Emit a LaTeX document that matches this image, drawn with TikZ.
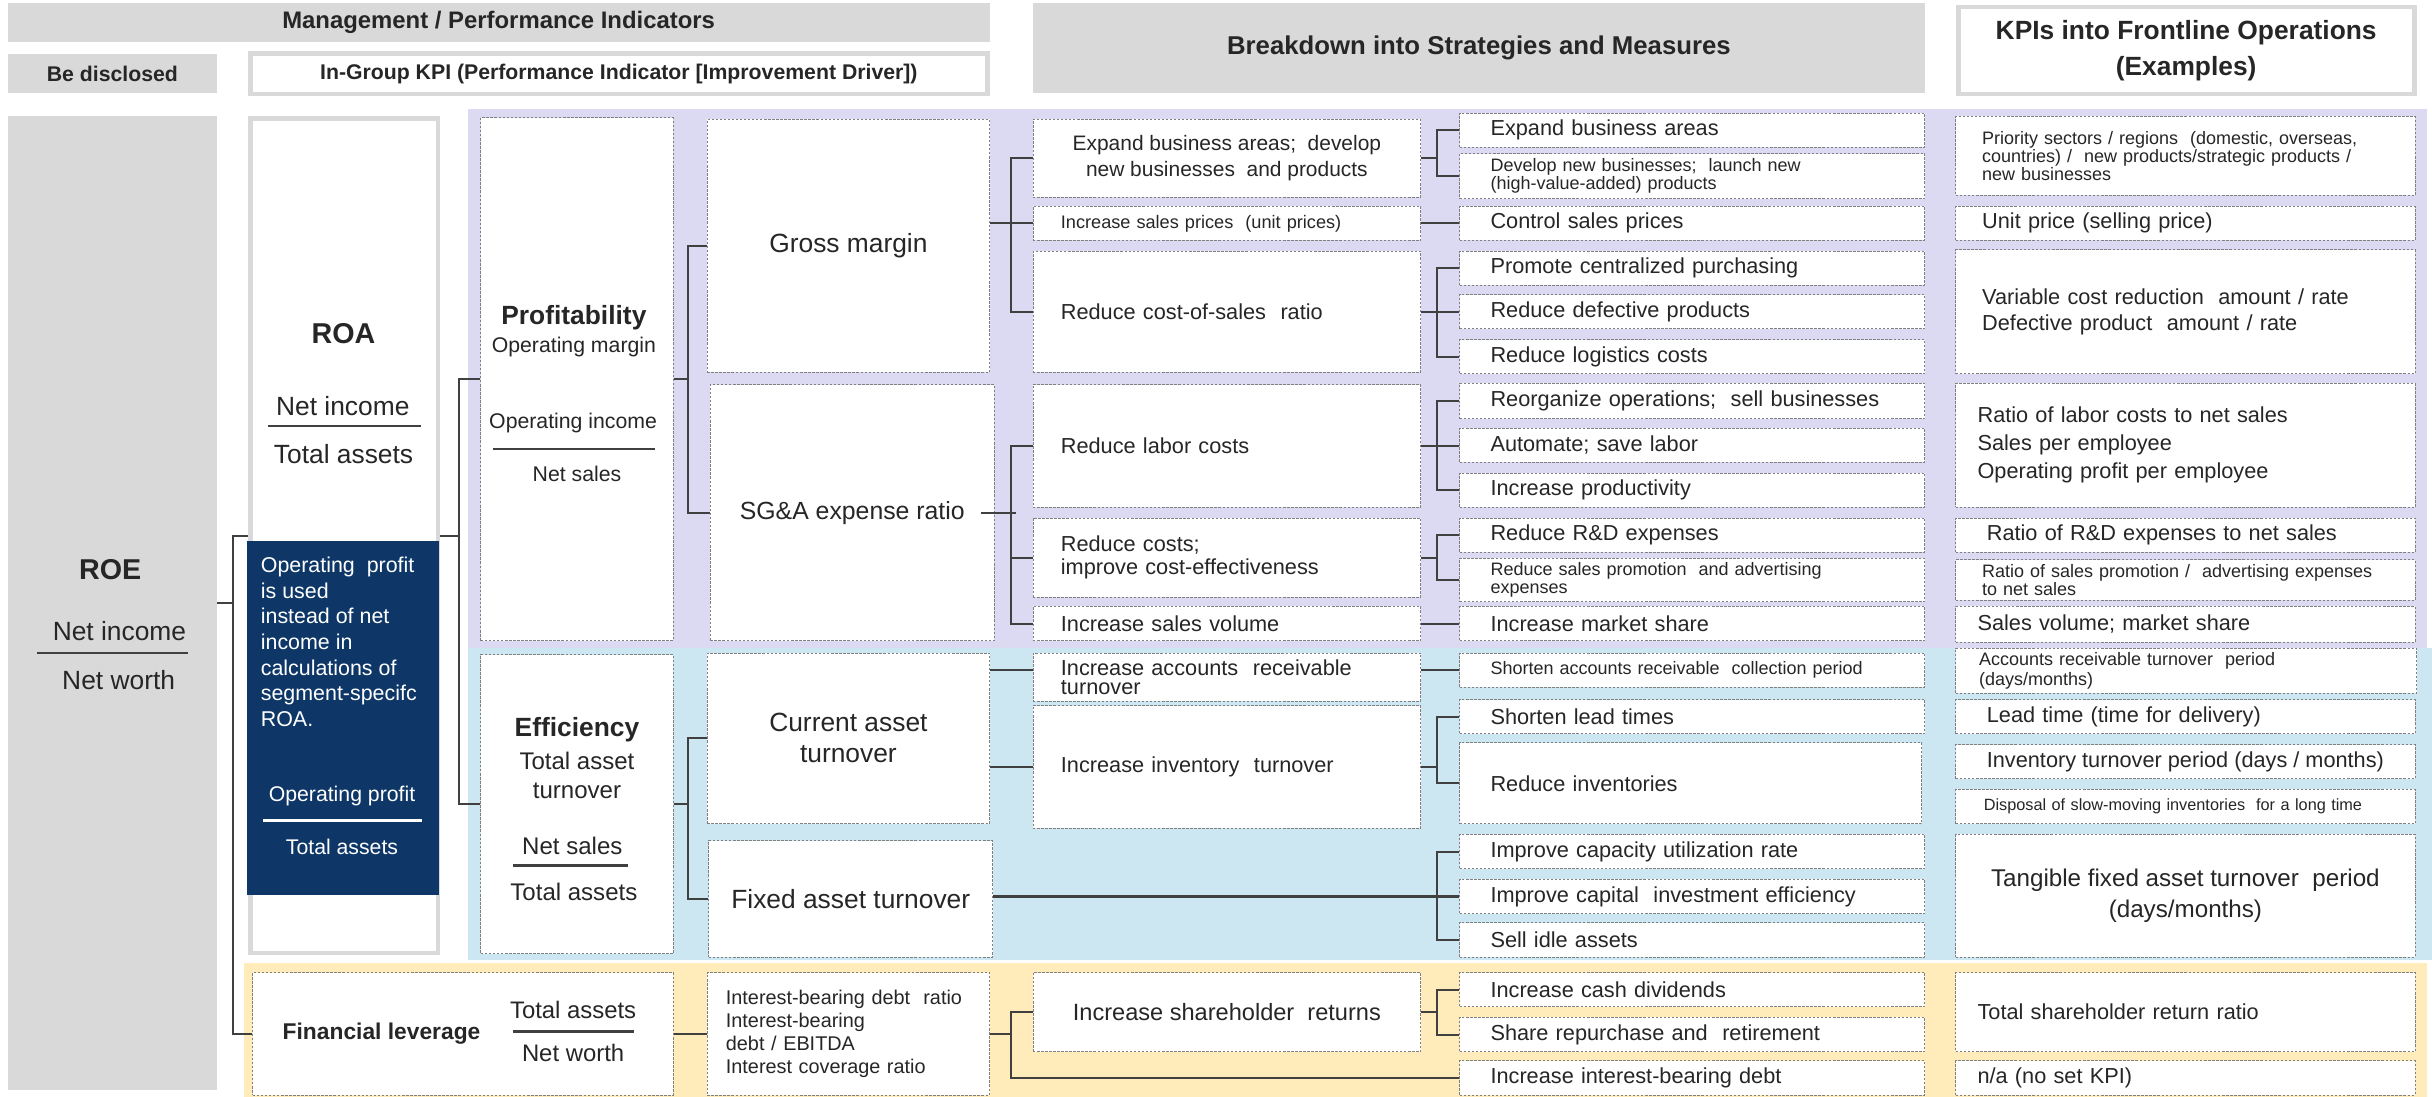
\documentclass[tikz,border=0pt]{standalone}
\usepackage{fontspec}
\setmainfont{Liberation Sans}
\usepackage{tikz}

\definecolor{hdrgray}{RGB}{217,217,217}
\definecolor{lavbg}{RGB}{220,218,242}
\definecolor{skybg}{RGB}{204,230,242}
\definecolor{creambg}{RGB}{255,236,186}
\definecolor{navy}{RGB}{14,55,104}
\definecolor{ink}{RGB}{38,38,38}
\definecolor{wire}{RGB}{64,64,64}
\definecolor{dashgray}{RGB}{128,128,128}

\tikzset{
  every node/.style={text=ink, inner sep=0pt},
  % 方框：左上角 (#1,#2)，右下角 (#3,#4)
  cellat/.style n args={4}{minimum width={#3-#1}, minimum height={#4-#2},
    at={({(#1+#3)/2},{(#2+#4)/2})}},
  cell/.style={draw=dashgray, dash pattern=on 1.6pt off 1pt, line width=0.6pt,
    fill=white, align=center},
  lcell/.style n args={5}{cell, cellat={#1}{#2}{#3}{#4}, align=left,
    text width={#3-#1-2*#5}},
  hdr/.style={fill=hdrgray},
  framebox/.style={draw=hdrgray, line width=3pt, fill=white},
  link/.style={draw=wire, line width=1.3pt},
  fracbar/.style={draw=wire, line width=1.4pt},
  fA/.style={font=\fontsize{17}{20}\selectfont},
  fM/.style={font=\fontsize{14}{16}\selectfont},
  fS/.style={font=\fontsize{11.6}{11.8}\selectfont},
}

\begin{document}
\begin{tikzpicture}[x=1pt, y=-1pt]
  \useasboundingbox (0,0) rectangle (1568,707);

  % ===== 表头 =====
  \node[hdr, cellat={5}{2}{638}{27}, font=\bfseries\fontsize{15.4}{18}\selectfont] (hmgmt) {Management / Performance Indicators};
  \node[hdr, cellat={5}{35}{140}{60}, font=\bfseries\fontsize{13.7}{16}\selectfont] (hdisc) {Be disclosed};
  \node[framebox, cellat={161.5}{34.5}{636.5}{60.5}, font=\bfseries\fontsize{13.7}{16}\selectfont] (hgrp) {In-Group KPI (Performance Indicator [Improvement Driver])};
  \node[hdr, cellat={666}{2}{1241}{60}, font=\bfseries\fontsize{16.6}{19}\selectfont] (hbrk) {Breakdown into Strategies and Measures};
  \node[framebox, cellat={1262.5}{4.5}{1556.5}{60.5}, align=center, font=\bfseries\fontsize{17}{23}\selectfont] (hfro) {KPIs into Frontline Operations\\(Examples)};

  % ===== 底色分区 =====
  \fill[lavbg] (302,70) rectangle (1565,418);
  \fill[skybg] (302,418) rectangle (1568,619);
  \fill[creambg] (157,621) rectangle (1565,707);

  % ===== ROE / ROA =====
  \node[hdr, cellat={5}{75}{140}{703}] (roe) {};
  \node[font=\bfseries\fontsize{18.5}{20}\selectfont] (roelbl) at (71,367) {ROE};
  \node[fA] (roenum) at (77,407) {Net income};
  \draw[fracbar] (24,421) -- (121,421);
  \node[fA] (roeden) at (76.5,438.5) {Net worth};

  \node[framebox, cellat={161.5}{76.5}{282.5}{614.5}] (roa) {};
  \node[font=\bfseries\fontsize{18.5}{20}\selectfont] (roalbl) at (221.5,215) {ROA};
  \node[fA] (roanum) at (221,262) {Net income};
  \draw[fracbar] (173,274.5) -- (271.5,274.5);
  \node[fA] (roaden) at (221.5,292.5) {Total assets};

  % 深蓝注释框
  \node[fill=navy, cellat={159}{349}{283}{577}] (opnote) {};
  \node[anchor=north west, text=white, align=left, font=\fontsize{13.8}{16.5}\selectfont] (opdesc) at (168,359)
    {Operating~ profit\\is used\\instead of net\\income in\\calculations of\\segment-specifc\\ROA.};
  \node[text=white, font=\fontsize{13.7}{16}\selectfont] (opnum) at (220.5,513) {Operating profit};
  \draw[fracbar, draw=white] (169.5,529) -- (272,529);
  \node[text=white, font=\fontsize{13.7}{16}\selectfont] (opden) at (220.5,546) {Total assets};

  % ===== 第二列 =====
  \node[cell, cellat={310}{76}{434}{413}] (prof) {};
  \node[font=\bfseries\fontsize{17}{20}\selectfont] (proflbl) at (370,205) {Profitability};
  \node[font=\fontsize{13.7}{16}\selectfont] (profsub) at (370,223.5) {Operating margin};
  \node[font=\fontsize{13.7}{16}\selectfont] (profnum) at (369.5,273) {Operating income};
  \draw[fracbar] (318,289.5) -- (422.5,289.5);
  \node[font=\fontsize{13.7}{16}\selectfont] (profden) at (372,305.5) {Net sales};

  \node[cell, cellat={310}{422}{434}{615}] (eff) {};
  \node[font=\bfseries\fontsize{17}{20}\selectfont] (efflbl) at (372,470.5) {Efficiency};
  \node[align=center, font=\fontsize{15.5}{18.8}\selectfont] (effsub) at (372,500) {Total asset\\turnover};
  \node[font=\fontsize{15.5}{18}\selectfont] (effnum) at (369,545.5) {Net sales};
  \draw[fracbar] (331,558) -- (405,558);
  \node[font=\fontsize{15.5}{18}\selectfont] (effden) at (370,575) {Total assets};

  \node[cell, cellat={163}{627}{434}{706}] (fl) {};
  \node[font=\bfseries\fontsize{14.7}{17}\selectfont] (fllbl) at (246,666.5) {Financial leverage};
  \node[font=\fontsize{15.4}{18}\selectfont] (flnum) at (369.5,651) {Total assets};
  \draw[fracbar] (330.5,665) -- (408.5,665);
  \node[font=\fontsize{15.4}{18}\selectfont] (flden) at (369.5,679) {Net worth};

  % ===== 第三列 =====
  \node[cell, cellat={456}{77}{638}{240}, fA] (gm) {Gross margin};
  \node[cell, cellat={458}{248}{641}{413}, font=\fontsize{16}{19}\selectfont] (sga) {SG\&A expense ratio};
  \node[cell, cellat={456}{421}{638}{531}, fA] (cat) {Current asset\\turnover};
  \node[cell, cellat={457}{542}{640}{617}, fA] (fat) {Fixed asset turnover};
  \node[lcell={456}{627}{638}{706}{12}, font=\fontsize{12.8}{15}\selectfont] (ibd)
    {Interest-bearing debt~ ratio\\Interest-bearing\\debt / EBITDA\\Interest coverage ratio};

  % ===== 第四列：策略 =====
  \node[cell, cellat={666}{77}{916}{127}, font=\fontsize{13.5}{17}\selectfont] (exb) {Expand business areas;~ develop\\new businesses~ and products};
  \node[lcell={666}{133}{916}{155}{18}, font=\fontsize{11.7}{13}\selectfont] (sp) {Increase sales prices~ (unit prices)};
  \node[lcell={666}{162}{916}{240}{18}, fM] (csr) {Reduce cost-of-sales~ ratio};
  \node[lcell={666}{248}{916}{327}{18}, fM] (lab) {Reduce labor costs};
  \node[lcell={666}{334}{916}{385}{18}, font=\fontsize{14}{15}\selectfont] (rco) {Reduce costs;\\improve cost-effectiveness};
  \node[lcell={666}{391}{916}{413}{18}, fM] (siv) {Increase sales volume};
  \node[lcell={666}{421}{916}{452}{18}, font=\fontsize{14}{12.5}\selectfont] (iar) {Increase accounts~ receivable\\turnover};
  \node[lcell={666}{455}{916}{534}{18}, fM] (iit) {Increase inventory~ turnover};
  \node[cell, cellat={666}{627}{916}{678}, font=\fontsize{15.2}{17}\selectfont] (isr) {Increase shareholder~ returns};

  % ===== 第五列：措施 =====
  \node[lcell={941}{73}{1241}{95}{20}, fM] (eba) {Expand business areas};
  \node[lcell={941}{99}{1241}{128}{20}, fS] (dnb) {Develop new businesses;~ launch new\\(high-value-added) products};
  \node[lcell={941}{133}{1241}{155}{20}, fM] (csp) {Control sales prices};
  \node[lcell={941}{162}{1241}{184}{20}, fM] (pcp) {Promote centralized purchasing};
  \node[lcell={941}{190}{1241}{212}{20}, fM] (rdp) {Reduce defective products};
  \node[lcell={941}{219}{1241}{241}{20}, fM] (rlc) {Reduce logistics costs};
  \node[lcell={941}{247}{1241}{270}{20}, fM] (ros) {Reorganize operations;~ sell businesses};
  \node[lcell={941}{276}{1241}{298}{20}, fM] (aut) {Automate; save labor};
  \node[lcell={941}{305}{1241}{327}{20}, fM] (ipr) {Increase productivity};
  \node[lcell={941}{334}{1241}{356}{20}, fM] (rrd) {Reduce R\&D expenses};
  \node[lcell={941}{360}{1241}{388}{20}, fS] (rsp) {Reduce sales promotion~ and advertising\\expenses};
  \node[lcell={941}{391}{1241}{413}{20}, fM] (ims) {Increase market share};
  \node[lcell={941}{421}{1241}{443}{20}, fS] (sar) {Shorten accounts receivable~ collection period};
  \node[lcell={941}{451}{1241}{473}{20}, fM] (slt) {Shorten lead times};
  \node[lcell={941}{479}{1239}{531}{20}, fM] (rin) {Reduce inventories};
  \node[lcell={941}{538}{1241}{560}{20}, fM] (icu) {Improve capacity utilization rate};
  \node[lcell={941}{567}{1241}{589}{20}, fM] (cie) {Improve capital~ investment efficiency};
  \node[lcell={941}{595}{1241}{617}{20}, fM] (sia) {Sell idle assets};
  \node[lcell={941}{627}{1241}{649}{20}, fM] (icd) {Increase cash dividends};
  \node[lcell={941}{656}{1241}{678}{20}, fM] (srr) {Share repurchase and~ retirement};
  \node[lcell={941}{684}{1241}{706}{20}, fM] (iid) {Increase interest-bearing debt};

  % ===== 第六列：一线 KPI =====
  \node[lcell={1261}{75}{1557}{126}{17}, fS] (kps) {Priority sectors / regions~ (domestic, overseas,\\countries) /~ new products/strategic products /\\new businesses};
  \node[lcell={1261}{133}{1557}{155}{17}, fM] (kup) {Unit price (selling price)};
  \node[lcell={1261}{161}{1557}{241}{17}, font=\fontsize{14}{17}\selectfont] (kvc) {Variable cost reduction~ amount / rate\\Defective product~ amount / rate};
  \node[lcell={1261}{247}{1557}{327}{14}, font=\fontsize{14}{18}\selectfont] (klc) {Ratio of labor costs to net sales\\Sales per employee\\Operating profit per employee};
  \node[lcell={1261}{334}{1557}{356}{20}, fM] (krd) {Ratio of R\&D expenses to net sales};
  \node[lcell={1261}{361}{1557}{387}{17}, fS] (ksp) {Ratio of sales promotion /~ advertising expenses\\to net sales};
  \node[lcell={1261}{391}{1557}{414}{14}, fM] (ksv) {Sales volume; market share};
  \node[lcell={1261}{418}{1558}{447}{15}, font=\fontsize{11.6}{13.5}\selectfont] (kar) {Accounts receivable turnover~ period\\(days/months)};
  \node[lcell={1261}{451}{1557}{473}{20}, fM] (klt) {Lead time (time for delivery)};
  \node[cell, cellat={1261}{480}{1557}{502}, fM] (kit) {Inventory turnover period (days / months)};
  \node[lcell={1261}{509}{1557}{531}{18}, font=\fontsize{10.5}{12}\selectfont] (kds) {Disposal of slow-moving inventories~ for a long time};
  \node[cell, cellat={1261}{538}{1557}{617}, font=\fontsize{15.6}{20}\selectfont] (ktf) {Tangible fixed asset turnover~ period\\(days/months)};
  \node[lcell={1261}{627}{1557}{678}{14}, fM] (ktsr) {Total shareholder return ratio};
  \node[lcell={1261}{684}{1557}{706}{14}, fM] (kna) {n/a (no set KPI)};

  % ===== 连线 =====
  % ROE -> ROA / 财务杠杆
  \draw[link] (roe.east) -- ++(10,0);
  \draw[link] (roa.west) -- ++(-10,0) |- (fl.west);
  % ROA -> 收益性 / 效率性
  \draw[link] (roa.east) -- ++(12,0);
  \draw[link] (prof.west) -- ++(-14,0) |- (eff.west);
  % 收益性 -> 毛利率 / 销管费率
  \draw[link] (prof.east) -- ++(10,0);
  \draw[link] (gm.west) -- ++(-12,0) |- (sga.west);
  % 效率性 -> 流动 / 固定资产周转
  \draw[link] (eff.east) -- ++(10,0);
  \draw[link] (cat.west) -- ++(-12,0) |- (fat.west);
  % 财务杠杆 -> 有息负债
  \draw[link] (fl.east) -- (ibd.west);

  % 毛利率
  \draw[link] (gm.east |- sp.west) -- (sp.west);
  \draw[link] (exb.west) -- ++(-14,0) |- (csr.west);
  % 销管费率
  \draw[link] ([xshift=-9pt]sga.east) -- ++(23,0);
  \draw[link] (lab.west) -- ++(-14,0) |- (siv.west);
  \draw[link] (rco.west) -- ++(-14,0);
  % 流动资产周转
  \draw[link] (cat.east |- sar.west) -- (iar.west |- sar.west);
  \draw[link] (cat.east |- iit.west) -- (iit.west);
  % 固定资产周转
  \draw[link] (fat.east |- cie.west) -- (cie.west);
  \draw[link] (icu.west) -- ++(-14,0) |- (sia.west);
  % 有息负债
  \draw[link] (ibd.east) -- ++(14,0);
  \draw[link] (isr.west) -- ++(-14,0) |- (iid.west);
  \draw[link] (isr.east) -- ++(11,0);
  \draw[link] (icd.west) -- ++(-14,0) |- (srr.west);

  % 策略 -> 措施
  \draw[link] (exb.east) -- ++(11,0);
  \draw[link] (eba.west) -- ++(-14,0) |- (dnb.west);
  \draw[link] (sp.east) -- (csp.west);
  \draw[link] (csr.east) -- (csr.east -| rdp.west);
  \draw[link] (pcp.west) -- ++(-14,0) |- (rlc.west);
  \draw[link] (lab.east) -- (lab.east -| aut.west);
  \draw[link] (ros.west) -- ++(-14,0) |- (ipr.west);
  \draw[link] (rco.east) -- ++(11,0);
  \draw[link] (rrd.west) -- ++(-14,0) |- (rsp.west);
  \draw[link] (siv.east) -- (siv.east -| ims.west);
  \draw[link] (iar.east |- sar.west) -- (sar.west);
  \draw[link] (iit.east) -- ++(11,0);
  \draw[link] (slt.west) -- ++(-14,0) |- (rin.west);
\end{tikzpicture}
\end{document}
